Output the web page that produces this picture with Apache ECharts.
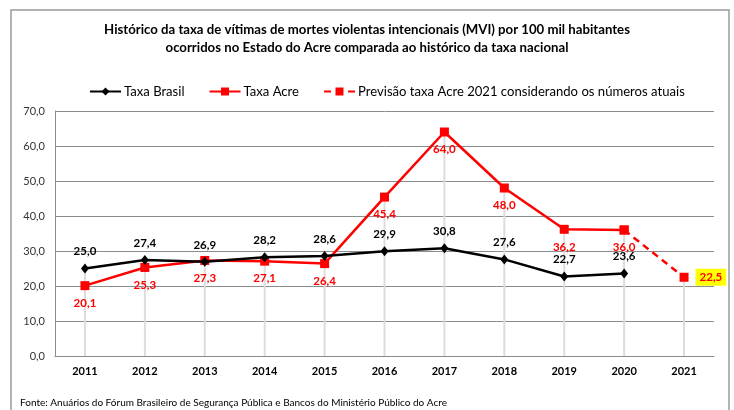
<!DOCTYPE html>
<html>
<head>
<meta charset="utf-8">
<script src="https://cdn.jsdelivr.net/npm/echarts@6/dist/echarts.min.js"></script>
<style>html,body{margin:0;padding:0;background:#fff}#c{width:734px;height:410px}</style>
</head>
<body>
<div id="c"></div>
<script>
var years = ['2011','2012','2013','2014','2015','2016','2017','2018','2019','2020','2021'];
var taxaBrasil = [25.0,27.4,26.9,28.2,28.6,29.9,30.8,27.6,22.7,23.6,null];
var taxaAcre = [20.1,25.3,27.3,27.1,26.4,45.4,64.0,48.0,36.2,36.0,null];
var previsaoAcre = [null,null,null,null,null,null,null,null,null,36.0,22.5];
var yTicks = [0,10,20,30,40,50,60,70];

var dropLines = years.map(function(_, i){
  var vals = [taxaBrasil[i], taxaAcre[i], previsaoAcre[i]].filter(function(v){return v != null;});
  return Math.max.apply(null, vals);
});
function fmt(v){ return (v == null) ? '' : Number(v).toFixed(1).replace('.', ','); }
var FONT = 'Lato';
var lastIdx = years.length - 1;
var previsaoData = previsaoAcre.map(function(v, i){
  return i === lastIdx ? {value:v, label:{show:true}} : v;
});

var chart = echarts.init(document.getElementById('c'), null, {renderer:'canvas'});
chart.setOption({
  animation:false,
  backgroundColor:'#fff',
  textStyle:{fontFamily:FONT},
  title:{
    text:'Histórico da taxa de vítimas de mortes violentas intencionais (MVI) por 100 mil habitantes\nocorridos no Estado do Acre comparada ao histórico da taxa nacional',
    left:'center', top:16,
    textStyle:{fontFamily:FONT, fontSize:13.2, fontWeight:'bold', color:'#000', lineHeight:18, align:'center'}
  },
  legend:{
    data:['Taxa Brasil','Taxa Acre','Previsão taxa Acre 2021 considerando os números atuais'],
    left:84, top:80, itemWidth:31, itemHeight:10, itemGap:24,
    textStyle:{fontFamily:FONT, fontSize:13.1, color:'#000', padding:[0,0,0,-2]}
  },
  grid:{left:55, right:20, top:111, bottom:54},
  xAxis:{
    type:'category', data:years, boundaryGap:true,
    axisLine:{lineStyle:{color:'#8c8c8c', width:1}},
    axisTick:{show:false},
    axisLabel:{fontFamily:FONT, fontSize:11, fontWeight:'bold', color:'#000', margin:10}
  },
  yAxis:{
    type:'value', min:yTicks[0], max:yTicks[yTicks.length-1], interval:10,
    axisLine:{show:true, lineStyle:{color:'#8c8c8c', width:1}},
    axisTick:{show:false},
    splitLine:{lineStyle:{color:'#8c8c8c', width:1}},
    axisLabel:{fontFamily:FONT, fontSize:11, color:'#333', margin:10, formatter:function(v){return fmt(v);}}
  },
  graphic:[
    {type:'rect', shape:{x:11, y:10, width:718, height:430}, style:{fill:'none', stroke:'#9a9a9a', lineWidth:1.5}, silent:true, z:-10},
    {type:'text', left:20, top:398, style:{text:'Fonte: Anuários do Fórum Brasileiro de Segurança Pública e Bancos do Ministério Público do Acre', fontFamily:FONT, fontSize:10, fill:'#000'}}
  ],
  series:[
    {
      name:'drop', type:'bar', data:dropLines, barWidth:2, silent:true,
      itemStyle:{color:'#dcdcdc'}, z:1
    },
    {
      name:'Taxa Brasil', type:'line', data:taxaBrasil, z:4,
      symbol:'diamond', symbolSize:[8,10],
      itemStyle:{color:'#000'}, lineStyle:{color:'#000', width:2.5},
      label:{show:true, position:'top', distance:6, fontFamily:FONT, fontSize:11.5, fontWeight:'bold', color:'#000', formatter:function(p){return fmt(p.value);}}
    },
    {
      name:'Taxa Acre', type:'line', data:taxaAcre, z:3,
      symbol:'rect', symbolSize:9,
      itemStyle:{color:'#ff0000'}, lineStyle:{color:'#ff0000', width:2.5},
      label:{show:true, position:'bottom', distance:7, fontFamily:FONT, fontSize:11.5, fontWeight:'bold', color:'#ff0000', formatter:function(p){return fmt(p.value);}}
    },
    {
      name:'Previsão taxa Acre 2021 considerando os números atuais', type:'line', data:previsaoData, z:3,
      symbol:'rect', symbolSize:9,
      itemStyle:{color:'#ff0000'}, lineStyle:{color:'#ff0000', width:2.5, type:[7,5]},
      label:{show:false, position:'right', distance:7, fontFamily:FONT, fontSize:11.5, fontWeight:'bold', color:'#ff0000',
        backgroundColor:'#ffff00', padding:[3,4,2,4],
        formatter:function(p){return fmt(p.value);}}
    }
  ]
});
</script>
</body>
</html>
